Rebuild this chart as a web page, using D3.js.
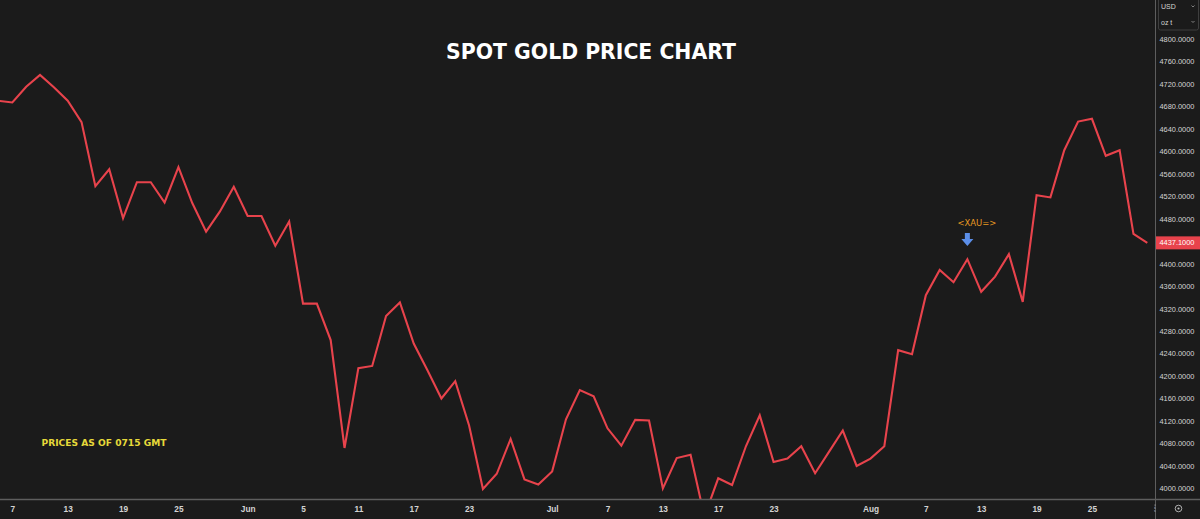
<!DOCTYPE html>
<html>
<head>
<meta charset="utf-8">
<script src="https://cdn.jsdelivr.net/npm/d3@7"></script>
<style>
  html, body { margin: 0; padding: 0; background: #1b1b1b; overflow: hidden; }
  svg { display: block; }
</style>
</head>
<body>
<svg id="chart" width="1200" height="519"></svg>
<script>
// ---------------- DATA ----------------
const startDate = "2026-05-06";
const endDate = "2026-08-31";
// daily close prices (trading days, Mon-Fri)
const prices = [
  4690, 4687, 4715, 4736, 4714, 4690, 4652, 4538, 4568, 4481, 4545, 4545, 4509, 4572, 4508, 4457, 4493, 4537,
  4485, 4485, 4432, 4475, 4329, 4329, 4264, 4072, 4214, 4218, 4307, 4331, 4258, 4210, 4160, 4191, 4112, 3999, 4026, 4088, 4016, 4007,
  4030, 4123, 4175, 4164, 4107, 4076, 4122, 4121, 4000, 4054, 4060, 3950, 4018, 4006, 4075, 4130, 4047, 4053, 4075, 4027, 4065, 4103, 4040,
  4053, 4075, 4246, 4239, 4344, 4389, 4367, 4408, 4350, 4377, 4417, 4332, 4522, 4518, 4602, 4653, 4658, 4592, 4602, 4453, 4437.1
];
const lastPrice = 4437.1;
const tickDates = ["2026-05-07","2026-05-13","2026-05-19","2026-05-25","2026-06-01","2026-06-05","2026-06-11","2026-06-17","2026-06-23",
  "2026-07-01","2026-07-07","2026-07-13","2026-07-17","2026-07-23","2026-08-03","2026-08-07","2026-08-13","2026-08-19","2026-08-25","2026-09-01"];
const yTicks = [4000, 4040, 4080, 4120, 4160, 4200, 4240, 4280, 4320, 4360, 4400, 4480, 4520, 4560, 4600, 4640, 4680, 4720, 4760, 4800];
const annotationDate = "2026-08-12";
const titleText = "SPOT GOLD PRICE CHART";
const noteText = "PRICES AS OF 0715 GMT";
const ricText = "<XAU=>";

// ---------------- HELPERS ----------------
const parse = d3.utcParse("%Y-%m-%d");
const fmtDay = d3.utcFormat("%-d");
const fmtMon = d3.utcFormat("%b");
const t0 = parse(startDate);
const isWeekday = x => x.getUTCDay() !== 0 && x.getUTCDay() !== 6;
function tradingIndex(dateStr) {
  return d3.utcDays(t0, parse(dateStr)).filter(isWeekday).length;
}
const dates = d3.utcDays(t0, d3.utcDay.offset(parse(endDate), 1)).filter(isWeekday);
const data = prices.map((v, i) => ({ i, date: dates[i], v }));

// ---------------- LAYOUT ----------------
const W = 1200, H = 519;
const plotRight = 1155.5, plotBottom = 499;
const bg = "#1b1b1b";
const axisColor = "#5e5e5e";
const labelColor = "#d4d4d4";

const svg = d3.select("#chart");
svg.append("rect").attr("width", W).attr("height", H).attr("fill", bg);
const defs = svg.append("defs");

const x = d3.scaleLinear().domain([0, prices.length - 1]).range([-1.5, 1147.3]);
const y = d3.scaleLinear().domain([4000, 4800]).range([488.4, 39]);

defs.append("clipPath").attr("id", "plotClip")
  .append("rect").attr("x", 0).attr("y", 0).attr("width", plotRight).attr("height", plotBottom);
defs.append("clipPath").attr("id", "xClip")
  .append("rect").attr("x", 0).attr("y", -5).attr("width", plotRight - 1).attr("height", 30);

// line
const line = d3.line().x(d => x(d.i)).y(d => y(d.v));
svg.append("g").attr("clip-path", "url(#plotClip)")
  .append("path").datum(data)
  .attr("d", line)
  .attr("fill", "none")
  .attr("stroke", "#e8434c")
  .attr("stroke-width", 2.1)
  .attr("stroke-linejoin", "miter");

// bottom axis
const tickParsed = tickDates.map(parse);
const xAxis = d3.axisBottom(x)
  .tickValues(tickDates.map(tradingIndex))
  .tickSize(0)
  .tickFormat((d, k) => {
    const dt = tickParsed[k];
    const newMonth = k > 0 && dt.getUTCMonth() !== tickParsed[k - 1].getUTCMonth();
    return newMonth ? fmtMon(dt) : fmtDay(dt);
  });
const gx = svg.append("g").attr("transform", `translate(0,${plotBottom})`)
  .attr("clip-path", "url(#xClip)").call(xAxis);
gx.select(".domain").remove();
gx.selectAll("text").attr("fill", labelColor).attr("font-family", "Liberation Sans, Arial, sans-serif")
  .attr("font-size", 8.3).attr("font-weight", "bold").attr("dy", 0).attr("y", 12.5);

// axis lines
svg.append("line").attr("x1", 0).attr("x2", W).attr("y1", plotBottom + 0.5).attr("y2", plotBottom + 0.5)
  .attr("stroke", axisColor).attr("stroke-width", 1.5);
svg.append("line").attr("x1", plotRight).attr("x2", plotRight).attr("y1", 0).attr("y2", H)
  .attr("stroke", axisColor).attr("stroke-width", 1);

// right axis
const yAxis = d3.axisRight(y).tickValues(yTicks).tickSize(0).tickFormat(d3.format(".4f"));
const gy = svg.append("g").attr("transform", `translate(${plotRight + 4},0)`).call(yAxis);
gy.select(".domain").remove();
gy.selectAll("text").attr("fill", labelColor).attr("font-family", "Liberation Sans, Arial, sans-serif")
  .attr("font-size", 7.4).attr("x", 0);

// last price tag
svg.append("rect").attr("x", plotRight + 0.5).attr("y", y(lastPrice) - 6.5).attr("width", W - plotRight).attr("height", 13)
  .attr("fill", "#e8434c");
svg.append("text").attr("x", plotRight + 4).attr("y", y(lastPrice)).attr("dy", "0.35em")
  .attr("fill", "#ffffff").attr("font-family", "Liberation Sans, Arial, sans-serif").attr("font-size", 7.4)
  .text(d3.format(".4f")(lastPrice));

// currency / unit box
svg.append("rect").attr("x", 1158.5).attr("y", -2).attr("width", 40).attr("height", 32).attr("rx", 2)
  .attr("fill", "none").attr("stroke", "#3e3e3e");
[["USD", 9], ["oz t", 24.5]].forEach(([t, yy]) => {
  svg.append("text").attr("x", 1161).attr("y", yy).attr("fill", labelColor)
    .attr("font-family", "Liberation Sans, Arial, sans-serif").attr("font-size", 7).text(t);
  svg.append("path").attr("d", `M${1191.5},${yy - 3.5} l1.5,1.5 l1.5,-1.5`).attr("fill", "none")
    .attr("stroke", "#9a9a9a").attr("stroke-width", 0.8);
});

// bottom-right icons
svg.append("circle").attr("cx", 1178.5).attr("cy", 508.5).attr("r", 3.3).attr("fill", "none").attr("stroke", "#bdbdbd").attr("stroke-width", 0.9);
svg.append("circle").attr("cx", 1178.5).attr("cy", 508.5).attr("r", 1.1).attr("fill", "#bdbdbd");
[505, 508, 511].forEach(cy => svg.append("circle").attr("cx", 1155).attr("cy", cy).attr("r", 0.6).attr("fill", "#bdbdbd"));

// helper to fit text to a target width
function fitText(sel, targetW) {
  const w = sel.node().getComputedTextLength();
  const fs = parseFloat(sel.attr("font-size"));
  sel.attr("font-size", fs * targetW / w);
  return sel;
}

// title
const title = svg.append("text").attr("x", 591).attr("y", 58.5).attr("text-anchor", "middle")
  .attr("fill", "#ffffff").attr("font-family", "DejaVu Sans, sans-serif").attr("font-weight", "bold")
  .attr("font-size", 22).text(titleText);
fitText(title, 290);

// note
const note = svg.append("text").attr("x", 41.5).attr("y", 446).attr("fill", "#e6d93a")
  .attr("font-family", "DejaVu Sans, sans-serif").attr("font-weight", "bold").attr("font-size", 10)
  .text(noteText);
fitText(note, 125);

// RIC annotation + arrow
const ax = x(tradingIndex(annotationDate));
const ric = svg.append("text").attr("x", ax + 9.5).attr("y", 225.5).attr("text-anchor", "middle").attr("fill", "#e89a22")
  .attr("font-family", "DejaVu Sans, sans-serif").attr("font-size", 10).text(ricText);
fitText(ric, 39);
const aTop = 233, aBot = 246;
svg.append("path")
  .attr("d", `M${ax - 2.5},${aTop} L${ax + 2.5},${aTop} L${ax + 2.5},${aTop + 6} L${ax + 6},${aTop + 6} L${ax},${aBot} L${ax - 6},${aTop + 6} L${ax - 2.5},${aTop + 6} Z`)
  .attr("fill", "#5b8ee8");
</script>
</body>
</html>
